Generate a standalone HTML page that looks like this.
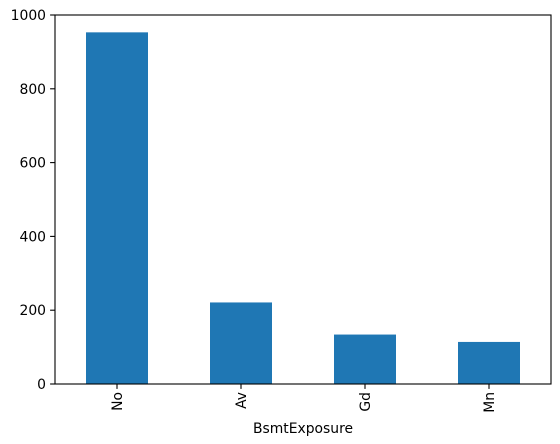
<!DOCTYPE html>
<html><head><meta charset="utf-8"><style>
html,body{margin:0;padding:0;background:#fff;width:560px;height:444px;overflow:hidden}
text{font-family:"DejaVu Sans","Liberation Sans",sans-serif;font-size:13.9px;fill:#000}
</style></head><body>
<svg id="chart" width="560" height="444" xmlns="http://www.w3.org/2000/svg"></svg>
<script>
const categories = ["No","Av","Gd","Mn"];
const counts = [953, 221, 134, 114];
const yTicks = [0,200,400,600,800,1000];
const xTitle = "BsmtExposure";

const L=55,R=551,T=15,B=384,yMax=1000;
const svg=document.getElementById('chart');
const NS='http://www.w3.org/2000/svg';
const y=v=>B-(v/yMax)*(B-T);
const step=(R-L)/categories.length;
const x=i=>L+step*(i+0.5);
function mk(tag,attrs,parent){const e=document.createElementNS(NS,tag);for(const k in attrs)e.setAttribute(k,attrs[k]);(parent||svg).appendChild(e);return e;}

counts.forEach((v,i)=>{
  const r=mk('rect',{x:x(i)-step*0.25,y:y(v),width:step*0.5,height:B-y(v),fill:'#1f77b4'});
  
  
});
const frame=mk('rect',{x:L,y:T,width:R-L,height:B-T,fill:'none',stroke:'#000','stroke-width':1.1});



yTicks.forEach(t=>{
  mk('line',{x1:L-4.9,x2:L,y1:y(t),y2:y(t),stroke:'#000','stroke-width':1.1});
  const tx=mk('text',{x:L-9,y:y(t)+5,'text-anchor':'end'});
  tx.textContent=t;
  
  
});
categories.forEach((c,i)=>{
  mk('line',{x1:x(i),x2:x(i),y1:B,y2:B+4.9,stroke:'#000','stroke-width':1.1});
  const tx=mk('text',{x:0,y:0,'text-anchor':'end',transform:`translate(${x(i)+5},${B+8}) rotate(-90)`});
  tx.textContent=c;
  
  
});
const xt=mk('text',{x:(L+R)/2,y:433,'text-anchor':'middle'});
xt.textContent=xTitle;


</script>
</body></html>
